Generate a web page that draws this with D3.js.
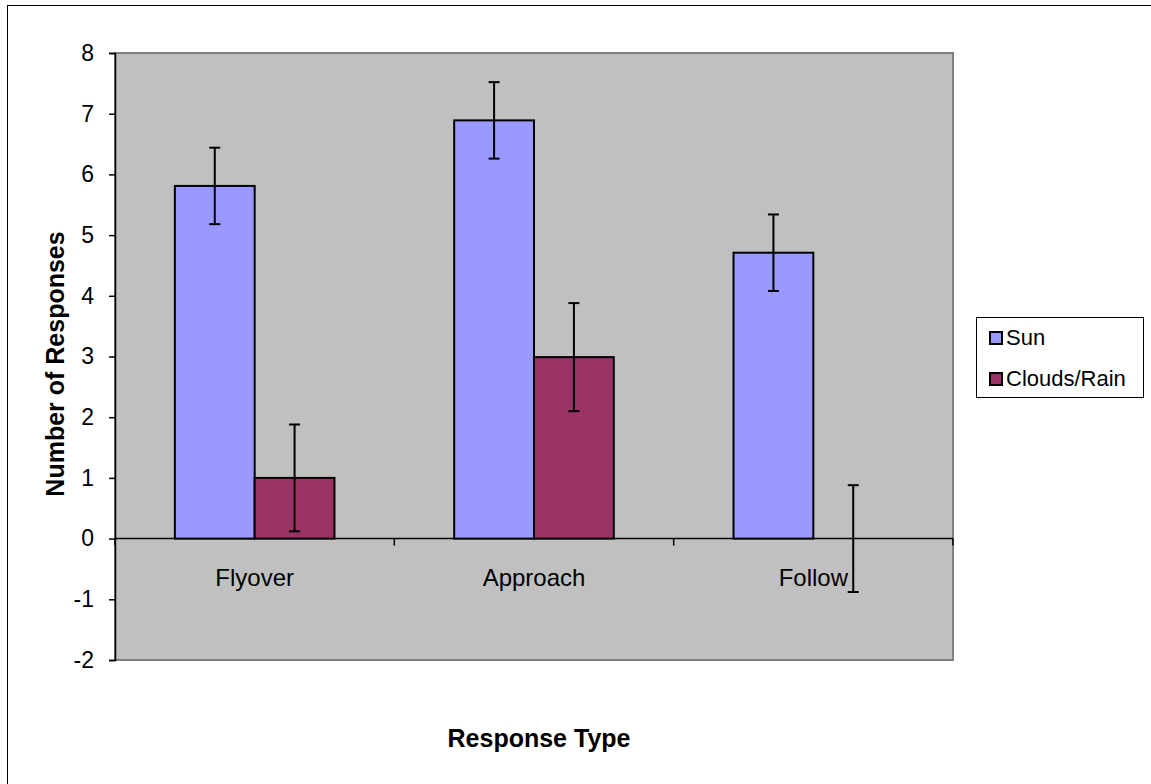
<!DOCTYPE html>
<html><head><meta charset="utf-8">
<script src="https://cdn.jsdelivr.net/npm/d3@7"></script>
<style>html,body{margin:0;padding:0;background:#fff;}svg{display:block;}</style>
</head><body>
<svg id="chart" width="1151" height="784"></svg>
<script>
const categories = ["Flyover", "Approach", "Follow"];
const seriesNames = ["Sun", "Clouds/Rain"];
const sunValues = [5.81, 6.89, 4.71];
const cloudValues = [1.0, 2.99, 0];
const sunErrors = [0.63, 0.63, 0.63];
const cloudErrors = [0.88, 0.89, 0.88];
const yTicks = [-2, -1, 0, 1, 2, 3, 4, 5, 6, 7, 8];
const colors = ["#9999FF", "#993366"];

const svg = d3.select("#chart");
const font = "'Liberation Sans', Arial, sans-serif";

// outer border
svg.append("rect").attr("x", 7.5).attr("y", 5.5).attr("width", 1200).attr("height", 900)
  .attr("fill", "#fff").attr("stroke", "#000").attr("stroke-width", 1);

const plot = {left: 115, top: 53, right: 953, bottom: 660};
const y = d3.scaleLinear().domain([-2, 8]).range([plot.bottom, plot.top]);
const x0 = d3.scaleBand().domain(categories).range([plot.left, plot.right]).paddingInner(0).paddingOuter(0);
const bw = x0.bandwidth() / 3.5;
const x1 = d3.scaleBand().domain(seriesNames).range([0, 2 * bw]);

svg.append("rect").attr("x", plot.left).attr("y", plot.top)
  .attr("width", plot.right - plot.left).attr("height", plot.bottom - plot.top)
  .attr("fill", "#C0C0C0").attr("stroke", "#808080").attr("stroke-width", 2);

// y axis
const yAxis = svg.append("g").attr("transform", `translate(${plot.left},0)`)
  .call(d3.axisLeft(y).tickValues(yTicks).tickSize(6).tickPadding(15).tickFormat(d => String(d)));
yAxis.select(".domain").attr("stroke", "#000").attr("stroke-width", 1.5);
yAxis.selectAll(".tick line").attr("stroke", "#000").attr("stroke-width", 1.5);
yAxis.selectAll("text").attr("font-family", font).attr("font-size", 23).attr("fill", "#000");

// x axis at zero
svg.append("line").attr("x1", plot.left).attr("x2", plot.right).attr("y1", y(0)).attr("y2", y(0))
  .attr("stroke", "#000").attr("stroke-width", 1.5);
const bounds = categories.map(c => x0(c)).concat([plot.right]);
svg.selectAll(".xtick").data(bounds).join("line").attr("class", "xtick")
  .attr("x1", d => d).attr("x2", d => d).attr("y1", y(0)).attr("y2", y(0) + 7)
  .attr("stroke", "#000").attr("stroke-width", 1.5);
svg.selectAll(".xlab").data(categories).join("text").attr("class", "xlab")
  .attr("x", d => x0(d) + x0.bandwidth() / 2).attr("y", y(0) + 47)
  .attr("text-anchor", "middle").attr("font-family", font).attr("font-size", 24)
  .text(d => d);

const data = [sunValues, cloudValues];
const errs = [sunErrors, cloudErrors];
seriesNames.forEach((s, si) => {
  const g = svg.append("g");
  const gx = c => x0(c) + x0.bandwidth() / 2 - bw + x1(s);
  g.selectAll("rect").data(categories.map((c, i) => ({c, v: data[si][i]})).filter(d => d.v !== 0))
    .join("rect")
    .attr("x", d => gx(d.c)).attr("width", bw)
    .attr("y", d => y(Math.max(0, d.v))).attr("height", d => Math.abs(y(d.v) - y(0)))
    .attr("fill", colors[si]).attr("stroke", "#000").attr("stroke-width", 2);
});
seriesNames.forEach((s, si) => {
  const g = svg.append("g");
  const cx = c => x0(c) + x0.bandwidth() / 2 - bw + x1(s) + bw / 2;
  const ed = categories.map((c, i) => ({c, v: data[si][i], e: errs[si][i]}));
  g.selectAll(".ev").data(ed).join("line").attr("class", "ev")
    .attr("x1", d => cx(d.c)).attr("x2", d => cx(d.c))
    .attr("y1", d => y(d.v + d.e)).attr("y2", d => y(d.v - d.e))
    .attr("stroke", "#000").attr("stroke-width", 2);
  ["+", "-"].forEach(sign => {
    g.selectAll(".cap" + (sign === "+" ? "t" : "b")).data(ed).join("line")
      .attr("class", "cap" + (sign === "+" ? "t" : "b"))
      .attr("x1", d => cx(d.c) - 5.5).attr("x2", d => cx(d.c) + 5.5)
      .attr("y1", d => y(sign === "+" ? d.v + d.e : d.v - d.e))
      .attr("y2", d => y(sign === "+" ? d.v + d.e : d.v - d.e))
      .attr("stroke", "#000").attr("stroke-width", 2);
  });
});

// axis titles
svg.append("text").attr("transform", `translate(64,364) rotate(-90)`)
  .attr("text-anchor", "middle").attr("font-family", font).attr("font-size", 25)
  .attr("font-weight", "bold").text("Number of Responses");
svg.append("text").attr("x", 539).attr("y", 747)
  .attr("text-anchor", "middle").attr("font-family", font).attr("font-size", 25)
  .attr("font-weight", "bold").text("Response Type");

// legend
const lg = svg.append("g").attr("transform", "translate(976,317)");
lg.append("rect").attr("x", 0.5).attr("y", 0.5).attr("width", 167).attr("height", 80)
  .attr("fill", "#fff").attr("stroke", "#000").attr("stroke-width", 1);
seriesNames.forEach((s, i) => {
  lg.append("rect").attr("x", 14).attr("y", 15 + i * 41).attr("width", 12).attr("height", 12)
    .attr("fill", colors[i]).attr("stroke", "#000").attr("stroke-width", 2);
  lg.append("text").attr("x", 30).attr("y", 28 + i * 41)
    .attr("font-family", font).attr("font-size", 22).text(s);
});
</script>
</body></html>
